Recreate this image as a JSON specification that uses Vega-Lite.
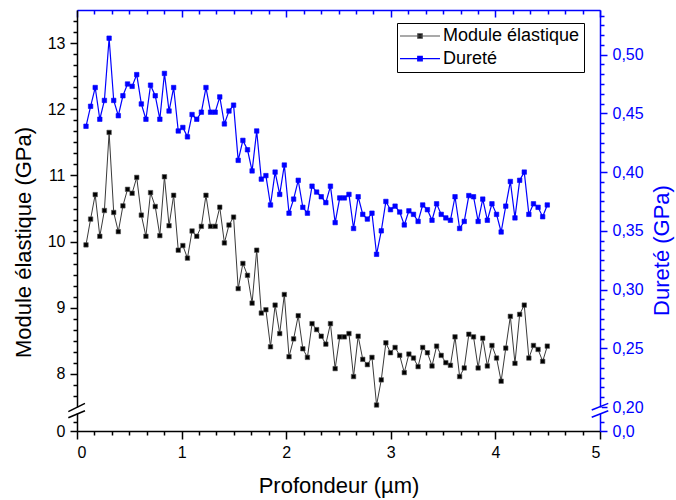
{
  "$schema": "https://vega.github.io/schema/vega-lite/v6.json",
  "width": 523,
  "height": 421,
  "autosize": "none",
  "padding": {"left": 77, "top": 10, "right": 76, "bottom": 69},
  "background": "white",
  "config": {
    "view": {"stroke": null},
    "font": "Liberation Sans",
    "axis": {"grid": false, "labelFont": "Liberation Sans", "titleFont": "Liberation Sans", "titleFontWeight": "normal", "labelFontSize": 16, "titleFontSize": 22, "domainWidth": 1.5, "tickWidth": 1.5}
  },
  "data": {"values": [
    {"x": 0.086, "m": 9.95, "d": 0.439},
    {"x": 0.130, "m": 10.34, "d": 0.456},
    {"x": 0.174, "m": 10.71, "d": 0.472},
    {"x": 0.218, "m": 10.08, "d": 0.445},
    {"x": 0.262, "m": 10.47, "d": 0.461},
    {"x": 0.307, "m": 11.65, "d": 0.514},
    {"x": 0.351, "m": 10.44, "d": 0.461},
    {"x": 0.395, "m": 10.15, "d": 0.448},
    {"x": 0.439, "m": 10.54, "d": 0.465},
    {"x": 0.483, "m": 10.79, "d": 0.475},
    {"x": 0.527, "m": 10.73, "d": 0.473},
    {"x": 0.571, "m": 10.97, "d": 0.483},
    {"x": 0.615, "m": 10.40, "d": 0.458},
    {"x": 0.659, "m": 10.08, "d": 0.445},
    {"x": 0.703, "m": 10.74, "d": 0.474},
    {"x": 0.748, "m": 10.53, "d": 0.465},
    {"x": 0.792, "m": 10.09, "d": 0.445},
    {"x": 0.836, "m": 10.98, "d": 0.484},
    {"x": 0.880, "m": 10.24, "d": 0.452},
    {"x": 0.924, "m": 10.70, "d": 0.472},
    {"x": 0.968, "m": 9.87, "d": 0.435},
    {"x": 1.012, "m": 9.94, "d": 0.438},
    {"x": 1.056, "m": 9.75, "d": 0.430},
    {"x": 1.100, "m": 10.16, "d": 0.449},
    {"x": 1.145, "m": 10.08, "d": 0.445},
    {"x": 1.189, "m": 10.23, "d": 0.451},
    {"x": 1.233, "m": 10.70, "d": 0.472},
    {"x": 1.277, "m": 10.23, "d": 0.451},
    {"x": 1.321, "m": 10.23, "d": 0.451},
    {"x": 1.365, "m": 10.52, "d": 0.464},
    {"x": 1.409, "m": 9.98, "d": 0.441},
    {"x": 1.453, "m": 10.25, "d": 0.452},
    {"x": 1.497, "m": 10.37, "d": 0.457},
    {"x": 1.541, "m": 9.29, "d": 0.410},
    {"x": 1.586, "m": 9.67, "d": 0.427},
    {"x": 1.630, "m": 9.49, "d": 0.419},
    {"x": 1.674, "m": 9.07, "d": 0.401},
    {"x": 1.718, "m": 9.87, "d": 0.435},
    {"x": 1.762, "m": 8.92, "d": 0.394},
    {"x": 1.806, "m": 8.97, "d": 0.397},
    {"x": 1.850, "m": 8.41, "d": 0.372},
    {"x": 1.894, "m": 9.04, "d": 0.400},
    {"x": 1.938, "m": 8.61, "d": 0.381},
    {"x": 1.982, "m": 9.20, "d": 0.406},
    {"x": 2.027, "m": 8.26, "d": 0.365},
    {"x": 2.071, "m": 8.53, "d": 0.377},
    {"x": 2.115, "m": 8.88, "d": 0.393},
    {"x": 2.159, "m": 8.38, "d": 0.370},
    {"x": 2.203, "m": 8.25, "d": 0.365},
    {"x": 2.247, "m": 8.76, "d": 0.388},
    {"x": 2.291, "m": 8.67, "d": 0.383},
    {"x": 2.335, "m": 8.57, "d": 0.379},
    {"x": 2.379, "m": 8.45, "d": 0.374},
    {"x": 2.423, "m": 8.76, "d": 0.388},
    {"x": 2.468, "m": 8.08, "d": 0.357},
    {"x": 2.512, "m": 8.56, "d": 0.378},
    {"x": 2.556, "m": 8.56, "d": 0.378},
    {"x": 2.600, "m": 8.61, "d": 0.381},
    {"x": 2.644, "m": 7.96, "d": 0.352},
    {"x": 2.688, "m": 8.57, "d": 0.379},
    {"x": 2.732, "m": 8.22, "d": 0.364},
    {"x": 2.776, "m": 8.14, "d": 0.360},
    {"x": 2.820, "m": 8.25, "d": 0.365},
    {"x": 2.864, "m": 7.53, "d": 0.330},
    {"x": 2.909, "m": 7.91, "d": 0.350},
    {"x": 2.953, "m": 8.47, "d": 0.375},
    {"x": 2.997, "m": 8.32, "d": 0.368},
    {"x": 3.041, "m": 8.40, "d": 0.371},
    {"x": 3.085, "m": 8.28, "d": 0.366},
    {"x": 3.129, "m": 8.02, "d": 0.355},
    {"x": 3.173, "m": 8.30, "d": 0.367},
    {"x": 3.217, "m": 8.24, "d": 0.364},
    {"x": 3.261, "m": 8.11, "d": 0.358},
    {"x": 3.305, "m": 8.40, "d": 0.372},
    {"x": 3.350, "m": 8.32, "d": 0.368},
    {"x": 3.394, "m": 8.12, "d": 0.359},
    {"x": 3.438, "m": 8.42, "d": 0.373},
    {"x": 3.482, "m": 8.28, "d": 0.364},
    {"x": 3.526, "m": 8.17, "d": 0.361},
    {"x": 3.570, "m": 8.13, "d": 0.359},
    {"x": 3.614, "m": 8.56, "d": 0.379},
    {"x": 3.658, "m": 7.96, "d": 0.352},
    {"x": 3.702, "m": 8.09, "d": 0.358},
    {"x": 3.746, "m": 8.60, "d": 0.380},
    {"x": 3.791, "m": 8.56, "d": 0.379},
    {"x": 3.835, "m": 8.09, "d": 0.358},
    {"x": 3.879, "m": 8.54, "d": 0.377},
    {"x": 3.923, "m": 8.12, "d": 0.359},
    {"x": 3.967, "m": 8.43, "d": 0.373},
    {"x": 4.011, "m": 8.24, "d": 0.364},
    {"x": 4.055, "m": 7.89, "d": 0.349},
    {"x": 4.099, "m": 8.39, "d": 0.371},
    {"x": 4.143, "m": 8.87, "d": 0.392},
    {"x": 4.187, "m": 8.16, "d": 0.361},
    {"x": 4.232, "m": 8.90, "d": 0.393},
    {"x": 4.276, "m": 9.04, "d": 0.400},
    {"x": 4.320, "m": 8.24, "d": 0.364},
    {"x": 4.364, "m": 8.43, "d": 0.373},
    {"x": 4.408, "m": 8.37, "d": 0.370},
    {"x": 4.452, "m": 8.19, "d": 0.362},
    {"x": 4.496, "m": 8.42, "d": 0.372}
  ]},
  "layer": [
    {
      "layer": [
        {
          "mark": {"type": "line", "color": "#3a3a3a", "strokeWidth": 1},
          "encoding": {
            "x": {"field": "x", "type": "quantitative", "scale": {"domain": [0, 5], "nice": false, "zero": false},
              "axis": {"orient": "bottom", "values": [0, 1, 2, 3, 4, 5], "tickSize": 8, "labelPadding": 5, "title": "Profondeur (µm)", "titlePadding": 15, "domainColor": "black", "tickColor": "black", "labelColor": "black", "titleColor": "black"}},
            "y": {"field": "m", "type": "quantitative", "scale": {"domain": [0, 7.5, 13.5], "range": [421, 397, 0], "nice": false, "zero": false},
              "axis": {"orient": "left", "values": [0, 8, 9, 10, 11, 12, 13], "tickSize": 7, "labelPadding": 5, "title": "Module élastique (GPa)", "titlePadding": 12, "titleY": 232, "domainColor": "black", "tickColor": "black", "labelColor": "black", "titleColor": "black"}}
          }
        },
        {
          "mark": {"type": "point", "shape": "square", "filled": true, "size": 20, "opacity": 1, "strokeWidth": 0.6},
          "encoding": {
            "x": {"field": "x", "type": "quantitative", "axis": null},
            "y": {"field": "m", "type": "quantitative", "axis": null},
            "color": {"datum": "Module élastique", "type": "nominal",
              "scale": {"domain": ["Module élastique", "Dureté"], "range": ["#000000", "#0000ff"]},
              "legend": {"orient": "none", "legendX": 320, "legendY": 13, "title": null, "fillColor": "white", "strokeColor": "black", "padding": 4, "labelFont": "Liberation Sans", "labelFontSize": 18, "labelColor": "black", "labelOffset": 14, "rowPadding": 4.6,
                "symbolType": "M-4,0H4M-0.45,-0.45H0.45V0.45H-0.45Z", "symbolSize": 100, "symbolOffset": 10, "symbolStrokeWidth": 1.2}},
            "stroke": {"datum": "Module élastique", "type": "nominal",
              "scale": {"domain": ["Module élastique", "Dureté"], "range": ["#555555", "#0000ff"]}}
          }
        },
        {
          "data": {"values": [{}]},
          "mark": {"type": "rule", "color": "white", "strokeWidth": 4},
          "encoding": {
            "x": {"datum": 0.0001, "type": "quantitative", "axis": null},
            "y": {"datum": 5.47, "type": "quantitative", "axis": null},
            "y2": {"datum": 7.34}
          }
        },
        {
          "data": {"values": [{}]},
          "mark": {"type": "rule", "color": "black", "strokeWidth": 1.5},
          "encoding": {
            "x": {"datum": -0.083, "type": "quantitative",
              "axis": {"orient": "bottom", "values": [0.1667, 0.3333, 0.5, 0.6667, 0.8333, 1.1667, 1.3333, 1.5, 1.6667, 1.8333, 2.1667, 2.3333, 2.5, 2.6667, 2.8333, 3.1667, 3.3333, 3.5, 3.6667, 3.8333, 4.1667, 4.3333, 4.5, 4.6667, 4.8333], "labels": false, "tickSize": 4, "domain": false, "title": null, "tickColor": "black"}},
            "x2": {"datum": 0.076},
            "y": {"datum": 6.03, "type": "quantitative",
              "axis": {"orient": "left", "values": [2.8, 7.667, 7.833, 8.167, 8.333, 8.5, 8.667, 8.833, 9.167, 9.333, 9.5, 9.667, 9.833, 10.167, 10.333, 10.5, 10.667, 10.833, 11.167, 11.333, 11.5, 11.667, 11.833, 12.167, 12.333, 12.5, 12.667, 12.833, 13.167, 13.333], "labels": false, "tickSize": 4, "domain": false, "title": null, "tickColor": "black"}},
            "y2": {"datum": 7.556}
          }
        },
        {
          "data": {"values": [{}]},
          "mark": {"type": "rule", "color": "black", "strokeWidth": 1.5},
          "encoding": {
            "x": {"datum": -0.083, "type": "quantitative", "axis": null},
            "x2": {"datum": 0.076},
            "y": {"datum": 4.16, "type": "quantitative", "axis": null},
            "y2": {"datum": 6.34}
          }
        }
      ],
      "resolve": {"axis": {"x": "independent", "y": "independent"}}
    },
    {
      "layer": [
        {
          "mark": {"type": "line", "color": "#0000ff", "strokeWidth": 1.2},
          "encoding": {
            "x": {"field": "x", "type": "quantitative", "scale": {"domain": [0, 5], "nice": false, "zero": false},
              "axis": {"orient": "top", "values": [0, 1, 2, 3, 4, 5], "labels": false, "tickSize": -7, "title": null, "domainColor": "#0000ff", "tickColor": "#0000ff"}},
            "y": {"field": "d", "type": "quantitative", "scale": {"domain": [0, 0.2, 0.538], "range": [421, 397, 0], "nice": false, "zero": false},
              "axis": {"orient": "right", "values": [0, 0.2, 0.25, 0.3, 0.35, 0.4, 0.45, 0.5], "labelExpr": "datum.value == 0 ? '0,0' : replace(format(datum.value, '.2f'), '.', ',')", "tickSize": 7, "labelPadding": 5, "title": "Dureté (GPa)", "titleAngle": -90, "titleBaseline": "top", "titlePadding": 8, "titleY": 240, "domainColor": "#0000ff", "tickColor": "#0000ff", "labelColor": "#0000ff", "titleColor": "#0000ff"}}
          }
        },
        {
          "mark": {"type": "point", "shape": "square", "filled": true, "size": 20, "opacity": 1, "strokeWidth": 0.6},
          "encoding": {
            "x": {"field": "x", "type": "quantitative", "axis": null},
            "y": {"field": "d", "type": "quantitative", "axis": null},
            "color": {"datum": "Dureté", "type": "nominal"},
            "stroke": {"datum": "Dureté", "type": "nominal"}
          }
        },
        {
          "data": {"values": [{}]},
          "mark": {"type": "rule", "color": "white", "strokeWidth": 4},
          "encoding": {
            "x": {"datum": 5, "type": "quantitative", "axis": null},
            "y": {"datum": 0.1458, "type": "quantitative", "axis": null},
            "y2": {"datum": 0.1958}
          }
        },
        {
          "data": {"values": [{}]},
          "mark": {"type": "rule", "color": "#0000ff", "strokeWidth": 1.5},
          "encoding": {
            "x": {"datum": 4.921, "type": "quantitative",
              "axis": {"orient": "top", "values": [0.1667, 0.3333, 0.5, 0.6667, 0.8333, 1.1667, 1.3333, 1.5, 1.6667, 1.8333, 2.1667, 2.3333, 2.5, 2.6667, 2.8333, 3.1667, 3.3333, 3.5, 3.6667, 3.8333, 4.1667, 4.3333, 4.5, 4.6667, 4.8333], "labels": false, "tickSize": -4, "domain": false, "title": null, "tickColor": "#0000ff"}},
            "x2": {"datum": 5.079},
            "y": {"datum": 0.175, "type": "quantitative",
              "axis": {"orient": "right", "values": [0.075, 0.2083, 0.2167, 0.225, 0.2333, 0.2417, 0.2583, 0.2667, 0.275, 0.2833, 0.2917, 0.3083, 0.3167, 0.325, 0.3333, 0.3417, 0.3583, 0.3667, 0.375, 0.3833, 0.3917, 0.4083, 0.4167, 0.425, 0.4333, 0.4417, 0.4583, 0.4667, 0.475, 0.4833, 0.4917, 0.5083, 0.5167, 0.525, 0.5333], "labels": false, "tickSize": 4, "domain": false, "title": null, "tickColor": "#0000ff"}},
            "y2": {"datum": 0.2031}
          }
        },
        {
          "data": {"values": [{}]},
          "mark": {"type": "rule", "color": "#0000ff", "strokeWidth": 1.5},
          "encoding": {
            "x": {"datum": 4.921, "type": "quantitative", "axis": null},
            "x2": {"datum": 5.079},
            "y": {"datum": 0.114, "type": "quantitative", "axis": null},
            "y2": {"datum": 0.169}
          }
        }
      ],
      "resolve": {"axis": {"x": "independent", "y": "independent"}}
    }
  ],
  "resolve": {"scale": {"y": "independent"}, "axis": {"x": "independent", "y": "independent"}}
}
